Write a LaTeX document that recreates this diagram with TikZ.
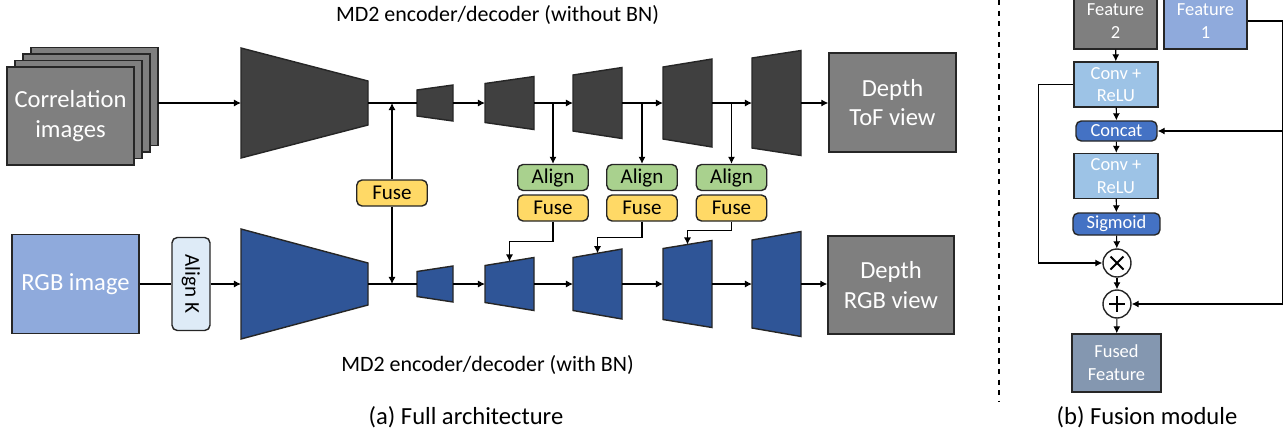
\documentclass[tikz,border=0pt]{standalone}
\usepackage{fontspec}
\setmainfont{Carlito}
\usetikzlibrary{calc,arrows.meta}
\definecolor{tofgrey}{HTML}{404040}
\definecolor{rgbblue}{HTML}{2F5597}
\definecolor{midgrey}{HTML}{7F7F7F}
\definecolor{lightblue}{HTML}{8FAADC}
\definecolor{paleblue}{HTML}{DEEBF7}
\definecolor{aligngreen}{HTML}{A9D18E}
\definecolor{fuseyellow}{HTML}{FFD966}
\definecolor{convblue}{HTML}{9DC3E6}
\definecolor{catblue}{HTML}{4472C4}
\definecolor{fusedgrey}{HTML}{8497B0}
\tikzset{
	outline/.style={draw=black!85, line width=0.8pt},
	blk/.style={outline, inner sep=0pt, align=center},
	bigtxt/.style={blk, text=white, font=\fontsize{14}{17}\selectfont},
	tag/.style={blk, rounded corners=3pt, minimum width=1.41cm, minimum height=0.52cm, font=\fontsize{12}{14}\selectfont},
	smalltxt/.style={blk, text=white, font=\fontsize{10.5}{13}\selectfont},
	link/.style={line width=0.6pt},
	arr/.style={link, -{Latex[length=4pt,width=4pt]}},
	caption/.style={inner sep=0pt, font=\fontsize{12.5}{15}\selectfont}
}
\def\trap[#1](#2)(#3:#4:#5:#6:#7){\draw[#1] (#3,#5-#6) -- (#4,#5-#7) -- (#4,#5+#7) -- (#3,#5+#6) -- cycle; \coordinate (#2-w) at (#3,#5); \coordinate (#2-e) at (#4,#5); \coordinate (#2-n) at ({(#3+#4)/2},{#5-(#6+#7)/2});}

\begin{document}
\begin{tikzpicture}[x=0.02cm, y=-0.02cm]
		%%%%% START %%%%%
		\useasboundingbox (0,0) rectangle (1286,434);
		
		% inputs
		\draw[outline, fill=midgrey] (31, 47.5) rectangle ++(127, 98);
		\draw[outline, fill=midgrey] (23, 54) rectangle ++(127, 98);
		\draw[outline, fill=midgrey] (15, 60.5) rectangle ++(127, 98);
		\node[bigtxt, fill=midgrey, minimum width=2.54cm, minimum height=1.96cm] (corr) at (70.5, 116) {Correlation\\images};
		\coordinate (stk) at (158, 96.5);
		\node[bigtxt, fill=lightblue, minimum width=2.54cm, minimum height=1.98cm] (rgb) at (75.5, 284) {RGB image};
		\node[tag, fill=paleblue, rotate=-90, minimum width=1.86cm, minimum height=0.76cm] (alk) at (191, 284) {Align K};
		
		% ToF branch
		\trap[outline, fill=tofgrey](t0)(241:368:103:55:22);
		\trap[outline, fill=tofgrey](t1)(417:453:103:13:18);
		\trap[outline, fill=tofgrey](t2)(485:534:103:19.5:26.5);
		\trap[outline, fill=tofgrey](t3)(573:622:103:28:35.5);
		\trap[outline, fill=tofgrey](t4)(663:712:103:36:44);
		\trap[outline, fill=tofgrey](t5)(752:801:103:45:52.5);
		\node[bigtxt, fill=midgrey, minimum width=2.54cm, minimum height=1.98cm] (dtof) at (892.5, 102.5) {Depth\\ToF view};
		
		% RGB branch
		\trap[outline, fill=rgbblue](b0)(241:368:284:55:21);
		\trap[outline, fill=rgbblue](b1)(417:453:284:12.5:18);
		\trap[outline, fill=rgbblue](b2)(485:534:284:18.5:26.5);
		\trap[outline, fill=rgbblue](b3)(573:622:284:26.5:35);
		\trap[outline, fill=rgbblue](b4)(663:712:284:35.5:43.5);
		\trap[outline, fill=rgbblue](b5)(752:801:284:44:52.5);
		\node[bigtxt, fill=midgrey, minimum width=2.52cm, minimum height=1.96cm] (drgb) at (891, 285) {Depth\\RGB view};
		
		% align / fuse
		\node[tag, fill=fuseyellow] (fz0) at (392, 193) {Fuse};
		\node[tag, fill=aligngreen] (al1) at (553, 177.5) {Align};
		\node[tag, fill=fuseyellow] (fz1) at (553, 208) {Fuse};
		\node[tag, fill=aligngreen] (al2) at (642, 177.5) {Align};
		\node[tag, fill=fuseyellow] (fz2) at (642, 208) {Fuse};
		\node[tag, fill=aligngreen] (al3) at (731.5, 177.5) {Align};
		\node[tag, fill=fuseyellow] (fz3) at (731.5, 208) {Fuse};
		
		% connectors
		\draw[arr] (t0-w -| stk) -- (t0-w);
		\draw[link] (t0-e) -- (t1-w);
		\draw[arr] (t1-e) -- (t2-w);
		\draw[arr] (t2-e) -- (t3-w);
		\draw[arr] (t3-e) -- (t4-w);
		\draw[arr] (t4-e) -- (t5-w);
		\draw[arr] (t5-e) -- (dtof.west |- t5-e);
		\draw[link] (rgb.east) -- (alk);
		\draw[arr] (alk) -- (b0-w);
		\draw[link] (b0-e) -- (b1-w);
		\draw[arr] (b1-e) -- (b2-w);
		\draw[arr] (b2-e) -- (b3-w);
		\draw[arr] (b3-e) -- (b4-w);
		\draw[arr] (b4-e) -- (b5-w);
		\draw[arr] (b5-e) -- (drgb.west |- b5-e);
		\draw[arr] (fz0.north) -- (fz0.north |- t0-e);
		\draw[arr] (fz0.south) -- (fz0.south |- b0-e);
		\draw[arr] (al1.north |- t2-e) -- (al1.north);
		\draw[arr] (al2.north |- t3-e) -- (al2.north);
		\draw[arr] (al3.north |- t4-e) -- (al3.north);
		\draw[arr] (fz1.south) -- ++(0, 20) -| (b2-n);
		\draw[arr] (fz2.south) -- ++(0, 16) -| (b3-n);
		\draw[arr] (fz3.south) -- ++(0, 9) -| (b4-n);
		
		% labels
		\node[caption] (captof) at (497.5, 15) {MD2 encoder/decoder (without BN)};
		\node[caption] (caprgb) at (487.5, 365) {MD2 encoder/decoder (with BN)};
		\node[caption, font=\fontsize{14}{17}\selectfont] (capa) at (466, 417) {(a) Full architecture};
		
		\draw[link, dashed] (999, 0) -- (999, 402);
		
		% fusion module
		\node[smalltxt, fill=midgrey, minimum width=1.66cm, minimum height=1.12cm] (f2) at (1115.5, 21) {Feature\\2};
		\node[smalltxt, fill=lightblue, minimum width=1.66cm, minimum height=1.12cm] (f1) at (1205.5, 21) {Feature\\1};
		\node[smalltxt, fill=convblue, minimum width=1.68cm, minimum height=0.9cm] (cv1) at (1116, 84.5) {Conv +\\ReLU};
		\node[smalltxt, fill=catblue, rounded corners=3pt, minimum width=1.62cm, minimum height=0.4cm] (cat) at (1116.5, 131) {Concat};
		\node[smalltxt, fill=convblue, minimum width=1.68cm, minimum height=0.9cm] (cv2) at (1116, 176) {Conv +\\ReLU};
		\node[smalltxt, fill=catblue, rounded corners=3pt, minimum width=1.74cm, minimum height=0.44cm] (sig) at (1116.5, 224) {Sigmoid};
		\node[outline, fill=white, circle, minimum size=0.56cm, inner sep=0pt] (mul) at (1117, 263) {};
		\node[outline, fill=white, circle, minimum size=0.56cm, inner sep=0pt] (add) at (1117, 304) {};
		\node[smalltxt, fill=fusedgrey, minimum width=1.78cm, minimum height=1.16cm] (fus) at (1116.5, 363) {Fused\\Feature};
		\draw[line width=1.1pt] ($(mul)+(-6.5,-6.5)$) -- ($(mul)+(6.5,6.5)$) ($(mul)+(-6.5,6.5)$) -- ($(mul)+(6.5,-6.5)$);
		\draw[line width=1.1pt] ($(add)+(-8,0)$) -- ($(add)+(8,0)$) ($(add)+(0,-8)$) -- ($(add)+(0,8)$);
		
		\draw[arr] (f2) -- (cv1);
		\draw[arr] (cv1) -- (cat);
		\draw[arr] (cat) -- (cv2);
		\draw[arr] (cv2) -- (sig);
		\draw[arr] (sig) -- (mul);
		\draw[arr] (mul) -- (add);
		\draw[arr] (add) -- (fus);
		\draw[arr] (cv1.west) -- ++(-35, 0) |- (mul.west);
		\draw[arr] (f1.east) -- ++(35, 0) coordinate (fr) |- (add.east);
		\draw[arr] (fr |- cat.east) -- (cat.east);
		
		\node[caption, font=\fontsize{14}{17}\selectfont] (capb) at (1147, 417) {(b) Fusion module};
		
		%%%%% END %%%%%
\end{tikzpicture}
\end{document}
